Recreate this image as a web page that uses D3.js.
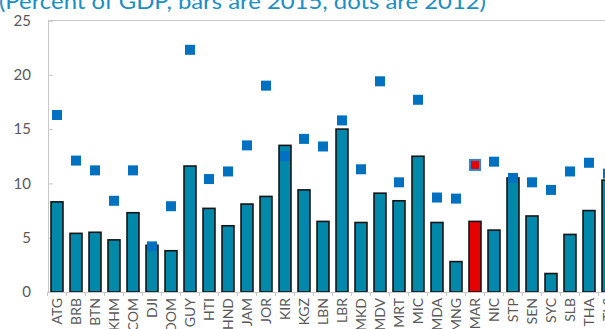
<!DOCTYPE html>
<html><head><meta charset="utf-8">
<script src="https://cdn.jsdelivr.net/npm/d3@7"></script>
<style>
html,body{margin:0;padding:0;background:#fff;overflow:hidden;}
svg{display:block;}
</style></head>
<body>
<svg id="chart" width="605" height="329"></svg>
<script>
const titleText = "(Percent of GDP, bars are 2015, dots are 2012)";
const categories = ["ATG","BRB","BTN","KHM","COM","DJI","DOM","GUY","HTI","HND","JAM","JOR","KIR","KGZ","LBN","LBR","MKD","MDV","MRT","MIC","MDA","MNG","MAR","NIC","STP","SEN","SYC","SLB","THA","TLS"];
const bars2015 = [8.3,5.4,5.5,4.8,7.3,4.3,3.8,11.6,7.7,6.1,8.1,8.8,13.5,9.4,6.5,15.0,6.4,9.1,8.4,12.5,6.4,2.8,6.5,5.7,10.5,7.0,1.7,5.3,7.5,10.3];
const dots2012 = [16.3,12.1,11.2,8.4,11.2,4.2,7.9,22.3,10.4,11.1,13.5,19.0,12.5,14.1,13.4,15.8,11.3,19.4,10.1,17.7,8.7,8.6,11.7,12.0,10.5,10.1,9.4,11.1,11.9,10.9];
const highlight = ["MAR"];
const yTicks = [0,5,10,15,20,25];

const svg = d3.select("#chart");
const font = "Lato, 'Open Sans', sans-serif";
const left = 48, yBottom = 292, yTop = 20.5;

const x = d3.scaleBand().domain(categories).range([47.5, 47.5 + 19.0*categories.length])
  .paddingInner(0.37).paddingOuter(0.185);
const y = d3.scaleLinear().domain([0,25]).range([yBottom, yTop]);

// title
svg.append("text").attr("x", -1).attr("y", 8.5)
  .attr("font-family", font).attr("font-size", 21).attr("fill", "#1B8EC2")
  .attr("textLength", 487).attr("lengthAdjust", "spacingAndGlyphs")
  .text(titleText);

// top border
svg.append("line").attr("x1", left).attr("x2", 605).attr("y1", y(25)).attr("y2", y(25))
  .attr("stroke", "#C8C8C8").attr("stroke-width", 1);

// y axis
const yAxis = svg.append("g").attr("transform", `translate(${left},0)`)
  .call(d3.axisLeft(y).tickValues(yTicks).tickSize(-5).tickPadding(17));
yAxis.select(".domain").attr("stroke", "#C8C8C8");
yAxis.selectAll(".tick line").attr("stroke", "#C8C8C8");
yAxis.selectAll(".tick text").attr("font-family", font).attr("font-size", 15).attr("fill", "#595959");

// bars
svg.append("g").selectAll("rect").data(categories).join("rect")
  .attr("x", d => x(d)).attr("width", x.bandwidth())
  .attr("y", (d,i) => y(bars2015[i])).attr("height", (d,i) => y(0) - y(bars2015[i]))
  .attr("fill", d => highlight.includes(d) ? "#E60000" : "#0088AA")
  .attr("stroke", "#151515").attr("stroke-width", 1.6);

// x axis
const xAxis = svg.append("g").attr("transform", `translate(0,${yBottom})`)
  .call(d3.axisBottom(x).tickSize(0).tickPadding(0));
xAxis.select(".domain").attr("stroke", "#C8C8C8").attr("stroke-width", 1.2);
xAxis.selectAll(".tick text").remove();
// separators between categories
svg.append("g").selectAll("line").data(categories).join("line")
  .attr("x1", d => x(d) - x.step()*x.paddingInner()/2).attr("x2", d => x(d) - x.step()*x.paddingInner()/2)
  .attr("y1", yBottom).attr("y2", yBottom + 4).attr("stroke", "#C8C8C8");
svg.append("g").selectAll("text").data(categories).join("text")
  .attr("transform", d => `translate(${x(d) + x.bandwidth()/2},${yBottom + 6}) rotate(-90)`)
  .attr("text-anchor", "end").attr("dy", "0.35em")
  .attr("font-family", font).attr("font-size", 14).attr("fill", "#595959")
  .text(d => d);

// dots
const s = 10;
svg.append("g").selectAll("rect").data(categories).join("rect")
  .attr("x", d => x(d) + x.bandwidth()/2 - s/2).attr("width", s)
  .attr("y", (d,i) => y(dots2012[i]) - s/2).attr("height", s)
  .attr("fill", d => highlight.includes(d) ? "#E60000" : "#0070C0")
  .attr("stroke", d => highlight.includes(d) ? "#2E86C8" : "none")
  .attr("stroke-width", 2);
</script>
</body></html>
